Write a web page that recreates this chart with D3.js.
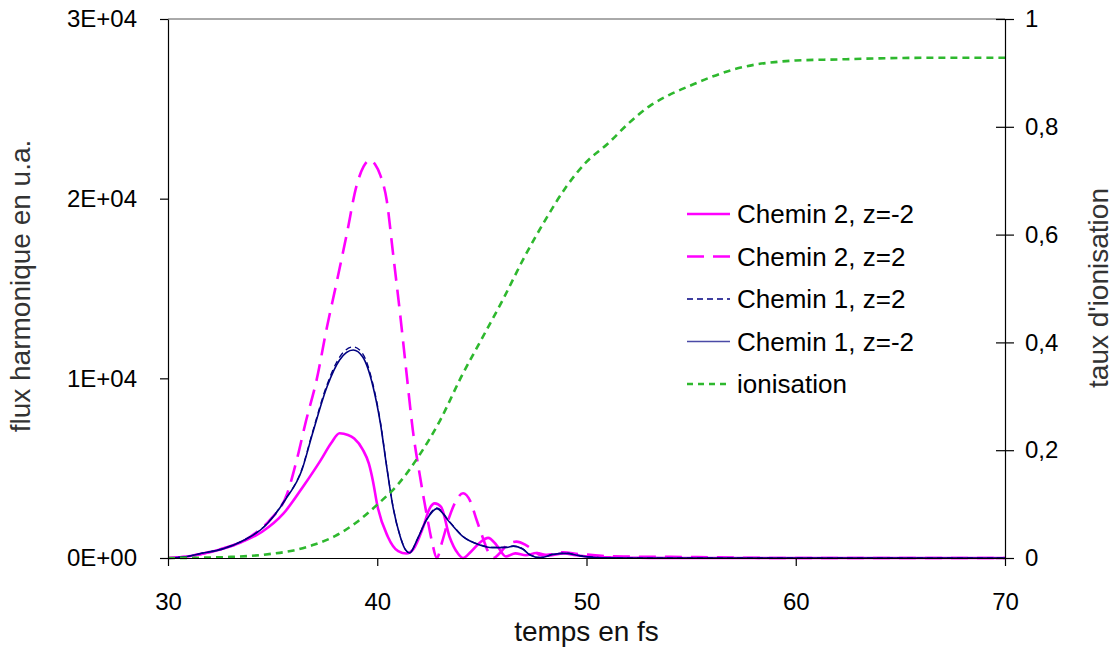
<!DOCTYPE html>
<html>
<head>
<meta charset="utf-8">
<script src="https://cdn.jsdelivr.net/npm/d3@7"></script>
<style>
  html, body { margin: 0; padding: 0; background: #fff; }
  svg { display: block; font-family: "Liberation Sans", Arial, sans-serif; }
</style>
</head>
<body>
<svg id="chart" width="1117" height="648"></svg>
<script>
// Harmonic flux (a.u.) versus time (fs) for two quantum paths at z = ±2,
// with the ionisation rate on the secondary axis.

const timeC2m = [30, 31, 31.6, 32.5, 33.5, 34.5, 35.5, 36.5, 37.3, 37.8, 38.2, 38.6, 38.9, 39.3, 39.6, 39.8, 40.0, 40.5, 41.0, 41.4, 41.7, 42.2, 42.5, 42.75, 43.05, 43.45, 43.85, 44.1, 44.5, 44.9, 45.3, 45.7, 46.15, 46.6, 47.1, 47.6, 48.2, 48.9, 49.6, 50.3, 51.2, 52.5, 54, 70];
const fluxC2m = [0, 100, 220, 470, 880, 1460, 2450, 4050, 5450, 6400, 6940, 6850, 6650, 6050, 5250, 4250, 2950, 1200, 380, 250, 450, 1740, 2750, 3040, 2850, 1200, 260, 0, 380, 850, 1120, 720, 80, 260, 150, 280, 130, 250, 140, 70, 30, 10, 0, 0];

const timeC2p = [30, 31, 31.6, 32.5, 33.6, 34.3, 34.9, 35.7, 36.15, 36.6, 37.1, 37.6, 38.05, 38.55, 39.0, 39.35, 39.65, 39.9, 40.15, 40.45, 40.75, 41.1, 41.4, 41.7, 42.05, 42.35, 42.6, 42.85, 43.1, 43.45, 43.75, 44.1, 44.45, 44.75, 45.0, 45.3, 45.55, 45.85, 46.2, 46.65, 47.1, 47.45, 47.85, 48.3, 48.9, 49.6, 50.3, 51, 52, 54, 56, 58, 60, 70];
const fluxC2p = [0, 100, 230, 490, 950, 1500, 2150, 3600, 5450, 7650, 9900, 12870, 15290, 18070, 20670, 21800, 22150, 21900, 21300, 19930, 17000, 13500, 10280, 7120, 4500, 2490, 1000, 0, 900, 2300, 3150, 3600, 3150, 2115, 1280, 350, 0, 260, 720, 910, 720, 445, 150, 200, 320, 220, 170, 100, 80, 60, 40, 10, 0, 0];

const timeC1 = [30, 31, 31.6, 32.55, 33.65, 34.6, 35.6, 36.4, 36.9, 37.6, 38.2, 38.85, 39.3, 39.8, 40.15, 40.45, 40.75, 41.1, 41.35, 41.55, 41.9, 42.35, 42.85, 43.45, 44.1, 44.9, 45.5, 46.2, 46.5, 46.95, 47.3, 47.8, 48.4, 49.0, 49.7, 50.3, 51, 52, 70];
const fluxC1p = [0, 100, 260, 490, 1010, 1760, 3260, 4950, 6980, 9650, 11180, 11750, 11380, 9650, 7580, 5120, 2880, 1200, 460, 290, 1010, 2130, 2790, 2030, 1200, 740, 590, 600, 670, 510, 180, 25, 210, 270, 125, 45, 10, 0, 0];
const fluxC1m = [0, 100, 260, 480, 1000, 1740, 3230, 4900, 6900, 9535, 11020, 11580, 11200, 9535, 7500, 5080, 2855, 1185, 450, 280, 1000, 2115, 2750, 2000, 1185, 724, 580, 590, 660, 500, 170, 20, 200, 260, 120, 40, 10, 0, 0];

const timeIon = [30, 31, 32, 33, 34, 35, 36, 37, 38, 39, 40, 41, 42, 43, 44, 45, 46, 47, 48, 49, 50, 51, 52, 53, 54, 55, 56, 57, 58, 59, 60, 62, 64, 66, 68, 70];
const ionRate = [0, 0.0003, 0.0008, 0.002, 0.004, 0.008, 0.014, 0.025, 0.041, 0.066, 0.099, 0.137, 0.19, 0.255, 0.335, 0.407, 0.479, 0.556, 0.625, 0.687, 0.735, 0.768, 0.806, 0.838, 0.86, 0.877, 0.893, 0.906, 0.915, 0.92, 0.923, 0.925, 0.927, 0.928, 0.928, 0.928];

const seriesNames = ["Chemin 2, z=-2", "Chemin 2, z=2", "Chemin 1, z=2", "Chemin 1, z=-2", "ionisation"];
const timeTicks = [30, 40, 50, 60, 70];
const fluxTicks = [0, 10000, 20000, 30000];
const fluxTickLabels = ["0E+00", "1E+04", "2E+04", "3E+04"];
const ionTicks = [0, 0.2, 0.4, 0.6, 0.8, 1];
const ionTickLabels = ["0", "0,2", "0,4", "0,6", "0,8", "1"];
const xTitle = "temps en fs";
const yTitle = "flux harmonique en u.a.";
const y2Title = "taux d'ionisation";

const svg = d3.select("#chart");
const plotLeft = 168, plotRight = 1005, plotTop = 19, plotBottom = 558;

const x = d3.scaleLinear().domain([30, 70]).range([plotLeft, plotRight]);
const y = d3.scaleLinear().domain([0, 30000]).range([plotBottom, plotTop]);
const y2 = d3.scaleLinear().domain([0, 1]).range([plotBottom, plotTop]);

svg.append("rect").attr("width", 1117).attr("height", 648).attr("fill", "#fff");

// frame top edge
svg.append("line")
  .attr("x1", plotLeft).attr("x2", plotRight).attr("y1", plotTop).attr("y2", plotTop)
  .attr("stroke", "#555").attr("stroke-width", 1);

const series = [
  { name: seriesNames[0], t: timeC2m, v: fluxC2m, scale: y, color: "#ff00ff", width: 2.6, dash: null },
  { name: seriesNames[1], t: timeC2p, v: fluxC2p, scale: y, color: "#ff00ff", width: 2.6, dash: "17,9" },
  { name: seriesNames[2], t: timeC1, v: fluxC1p, scale: y, color: "#000080", width: 1.3, dash: "6,4" },
  { name: seriesNames[3], t: timeC1, v: fluxC1m, scale: y, color: "#000080", width: 1.6, dash: null },
  { name: seriesNames[4], t: timeIon, v: ionRate, scale: y2, color: "#2eb82e", width: 2.6, dash: "7,5" }
];

const plot = svg.append("g");
series.forEach(s => {
  const pts = s.t.map((t, i) => [t, s.v[i]]);
  const line = d3.line()
    .x(d => x(d[0]))
    .y(d => s.scale(d[1]))
    .curve(d3.curveMonotoneX);
  plot.append("path")
    .datum(pts)
    .attr("d", line)
    .attr("fill", "none")
    .attr("stroke", s.color)
    .attr("stroke-width", s.width)
    .attr("stroke-dasharray", s.dash)
    .attr("stroke-linejoin", "round");
});

// axes
const fontSize = 24;
const titleSize = 28;
const xAxis = svg.append("g")
  .attr("transform", `translate(0,${plotBottom})`)
  .call(d3.axisBottom(x).tickValues(timeTicks).tickSize(8).tickSizeOuter(0).tickPadding(27));
const yAxis = svg.append("g")
  .attr("transform", `translate(${plotLeft},0)`)
  .call(d3.axisLeft(y).tickValues(fluxTicks).tickFormat((d, i) => fluxTickLabels[i])
    .tickSize(8).tickSizeOuter(0).tickPadding(23));
const y2Axis = svg.append("g")
  .attr("transform", `translate(${plotRight},0)`)
  .call(d3.axisRight(y2).tickValues(ionTicks).tickFormat((d, i) => ionTickLabels[i])
    .tickSize(9).tickSizeOuter(0).tickPadding(11));
y2Axis.selectAll(".tick line").attr("x1", -9);

[xAxis, yAxis, y2Axis].forEach(a => {
  a.selectAll(".domain").attr("stroke", "#000").attr("stroke-width", 1.2);
  a.selectAll(".tick line").attr("stroke", "#000").attr("stroke-width", 1.2);
  a.selectAll(".tick text")
    .attr("font-family", "Liberation Sans, Arial, sans-serif")
    .attr("font-size", fontSize).attr("fill", "#000");
});

// axis titles
svg.append("text")
  .attr("x", (plotLeft + plotRight) / 2).attr("y", 641)
  .attr("text-anchor", "middle")
  .attr("font-size", titleSize).attr("fill", "#111")
  .text(xTitle);
svg.append("text")
  .attr("transform", `translate(30,286) rotate(-90)`)
  .attr("text-anchor", "middle")
  .attr("font-size", titleSize).attr("fill", "#333")
  .text(yTitle);
svg.append("text")
  .attr("transform", `translate(1108,288) rotate(-90)`)
  .attr("text-anchor", "middle")
  .attr("font-size", titleSize).attr("fill", "#333")
  .text(y2Title);

// legend
const legend = svg.append("g").attr("transform", "translate(687,214)");
series.forEach((s, i) => {
  const row = legend.append("g").attr("transform", `translate(0,${i * 42.5})`);
  row.append("line")
    .attr("x1", 0).attr("x2", 43).attr("y1", 0).attr("y2", 0)
    .attr("stroke", i === 3 ? "#4a4aa6" : s.color)
    .attr("stroke-width", i >= 2 && i <= 3 ? 1.5 : 2.4)
    .attr("stroke-dasharray", i === 1 ? "17,9" : i === 2 ? "6,4" : i === 4 ? "6,5" : null);
  row.append("text")
    .attr("x", 50).attr("y", 0).attr("dy", "0.36em")
    .attr("font-size", 26).attr("fill", "#000")
    .text(s.name);
});
</script>
</body>
</html>
